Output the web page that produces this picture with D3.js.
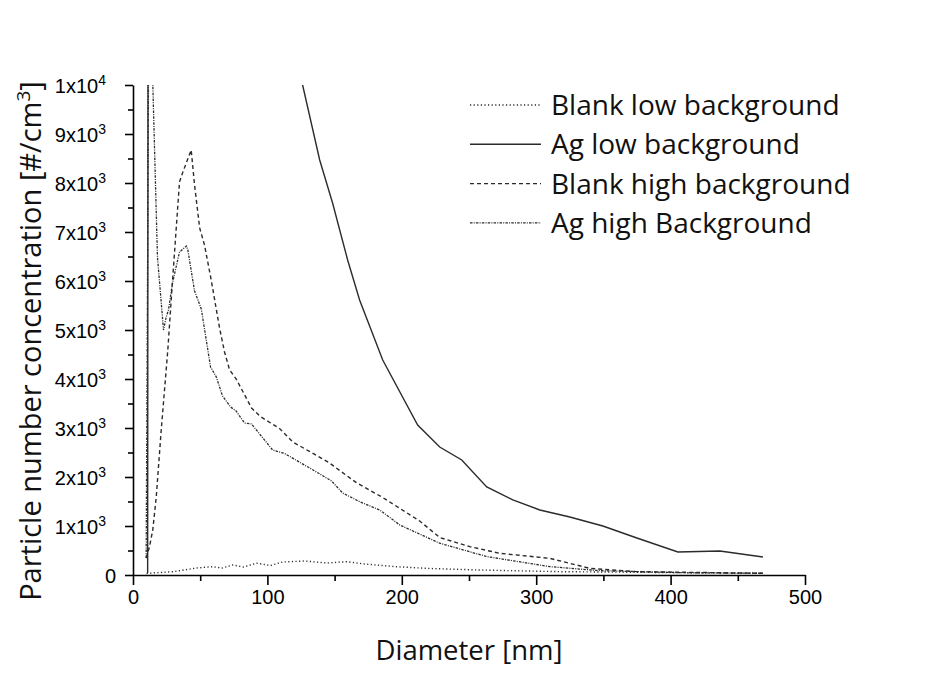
<!DOCTYPE html>
<html>
<head>
<meta charset="utf-8">
<script src="https://cdn.jsdelivr.net/npm/d3@7"></script>
<style>
  body { margin: 0; background: #fff; }
  svg { display: block; }
</style>
</head>
<body>
<svg id="drawing_region"></svg>
<script>

// series values [diameter nm, concentration #/cm3]
const blankLow = [
    [10.1, 31], [17.5, 47], [29.6, 67], [47.3, 143], [59.2, 169], [66.6, 143],
    [74.1, 204], [82.3, 163], [92, 240], [102.4, 194], [111.3, 265], [127.7, 286],
    [144.1, 245], [159, 271], [172.4, 224], [196.2, 169], [220.7, 133], [258, 102],
    [317.6, 68], [468.7, 35]
];

const agLow = [
    [10.9, 40], [11.6, 30000], [120, 10800], [126.2, 10000], [138.9, 8469], [148.5, 7592],
    [159.7, 6429], [168.6, 5612], [185.8, 4388], [211.8, 3061], [228.2, 2612],
    [244.6, 2347], [263.2, 1796], [282.6, 1531], [302.7, 1327], [325, 1184],
    [349.6, 1000], [374.9, 755], [405.4, 469], [436.7, 490], [468.7, 367]
];

const blankHigh = [
    [9.8, 347], [12.3, 578], [14.7, 918], [17.3, 1592], [21, 2959], [25.9, 4592],
    [29.6, 6082], [34.6, 8020], [37.1, 8224], [43.3, 8673], [45.8, 7959], [49.6, 7082],
    [53.2, 6735], [58.2, 6020], [64.4, 5041], [68.1, 4551], [71.9, 4184], [76.8, 4000],
    [88.2, 3408], [94.9, 3231], [109, 2990], [119, 2714], [145.9, 2292], [166.2, 1884],
    [186, 1578], [213.3, 1102], [228.2, 765], [250.6, 578], [272.9, 443], [310.1, 340],
    [339.9, 136], [374.7, 68], [468.7, 35]
];

const agHigh = [
    [9.8, 347], [12, 12800], [18.2, 6490], [22.7, 5000], [24.7, 5265], [26.4, 5408],
    [29.4, 5959], [34.6, 6592], [39.8, 6714], [40.8, 6633], [45.8, 5796], [50.8, 5429],
    [53.2, 5020], [57.7, 4245], [62, 4041], [66.6, 3653], [72.6, 3429], [76.7, 3347],
    [83, 3102], [88.2, 3082], [91.2, 2980], [103.9, 2551], [112.8, 2480], [131.4, 2184],
    [147.8, 1918], [156, 1673], [168.7, 1496], [183.6, 1327], [198.5, 1020], [228.2, 649],
    [263.2, 376], [310.1, 171], [347.4, 88], [409.2, 47], [468.7, 35]
];

const seriesNames = ['Blank low background', 'Ag low background', 'Blank high background', 'Ag high Background'];
const xTicks = [0, 100, 200, 300, 400, 500];
const yTicks = [0, 1000, 2000, 3000, 4000, 5000, 6000, 7000, 8000, 9000, 10000];

const config = {
    width: 925,
    height: 679,
    margin: {top: 85, right: 120, bottom: 104, left: 133}
};

const svg = d3.select('#drawing_region')
    .attr('width', config.width)
    .attr('height', config.height);

const innerW = config.width - config.margin.left - config.margin.right;
const innerH = config.height - config.margin.top - config.margin.bottom;

const chart = svg.append('g')
    .attr('transform', `translate(${config.margin.left}, ${config.margin.top})`);

const xscale = d3.scaleLinear().domain([0, 500]).range([0, innerW]);
const yscale = d3.scaleLinear().domain([0, 10000]).range([innerH, 0]);

svg.append('defs').append('clipPath').attr('id', 'plotclip')
    .append('rect').attr('x', 0).attr('y', 0).attr('width', innerW).attr('height', innerH);

const ink = '#2b2b2b';
const styles = [
    {dash: '1.2,2.4', width: 1.4},
    {dash: null, width: 1.4},
    {dash: '4,3', width: 1.4},
    {dash: '2.5,1.2,1,1.2', width: 1.3}
];
const allSeries = [blankLow, agLow, blankHigh, agHigh];

const line = d3.line()
    .x(d => xscale(d[0]))
    .y(d => yscale(d[1]));

const lines = chart.append('g').attr('clip-path', 'url(#plotclip)');
allSeries.forEach((s, i) => {
    lines.append('path')
        .datum(s)
        .attr('fill', 'none')
        .attr('stroke', ink)
        .attr('stroke-width', styles[i].width)
        .attr('stroke-dasharray', styles[i].dash)
        .attr('d', line);
});

// minor ticks
const xMinor = d3.range(50, 500, 100);
const yMinor = d3.range(500, 10000, 1000);

const xaxis = d3.axisBottom(xscale).tickValues(xTicks).tickSize(10).tickSizeOuter(0).tickPadding(5);
const yaxis = d3.axisLeft(yscale).tickValues(yTicks).tickSize(8).tickSizeOuter(0).tickPadding(7)
    .tickFormat(() => '');

const xg = chart.append('g').attr('transform', `translate(0, ${innerH})`).call(xaxis);
const yg = chart.append('g').call(yaxis);

chart.append('g').attr('transform', `translate(0, ${innerH})`)
    .call(d3.axisBottom(xscale).tickValues(xMinor).tickSize(6).tickSizeOuter(0).tickFormat(''))
    .call(g => g.select('.domain').remove());
chart.append('g')
    .call(d3.axisLeft(yscale).tickValues(yMinor).tickSize(5).tickSizeOuter(0).tickFormat(''))
    .call(g => g.select('.domain').remove());

chart.selectAll('.domain, .tick line').attr('stroke', '#000').attr('stroke-width', 1.6);

xg.selectAll('text')
    .attr('font-family', 'Liberation Sans, Arial, sans-serif')
    .attr('font-size', 20)
    .attr('fill', '#000');

// y tick labels as 1x10^3 with superscript
yg.selectAll('.tick').each(function(v) {
    const t = d3.select(this).select('text')
        .attr('font-family', 'Liberation Sans, Arial, sans-serif')
        .attr('font-size', 20)
        .attr('fill', '#000')
        .attr('x', -27)
        .attr('dy', '0.35em')
        .attr('text-anchor', 'end');
    if (v === 0) { t.attr('x', -17).text('0'); return; }
    const exp = Math.floor(Math.log10(v));
    const m = Math.round(v / Math.pow(10, exp));
    t.text(null);
    t.append('tspan').text(m + 'x10');
    t.append('tspan').attr('dy', -8).attr('font-size', 14).text(exp);
});

// axis titles
svg.append('text')
    .attr('x', config.margin.left + xscale(250))
    .attr('y', 660)
    .attr('text-anchor', 'middle')
    .attr('font-family', 'Open Sans, Noto Sans, sans-serif')
    .attr('font-size', 27.5)
    .attr('fill', '#111')
    .text('Diameter [nm]');

const ytitle = svg.append('text')
    .attr('transform', `translate(41, ${config.margin.top + innerH / 2 + 11}) rotate(-90)`)
    .attr('text-anchor', 'middle')
    .attr('font-family', 'Open Sans, Noto Sans, sans-serif')
    .attr('font-size', 29)
    .attr('fill', '#111');
ytitle.append('tspan').text('Particle number concentration [#/cm');
ytitle.append('tspan').attr('dy', -11).attr('font-size', 19).text('3');
ytitle.append('tspan').attr('dy', 11).text(']');

// legend
const legend = svg.append('g').attr('transform', 'translate(470, 105)');
seriesNames.forEach((name, i) => {
    const row = legend.append('g').attr('transform', `translate(0, ${i * 39.3})`);
    row.append('line')
        .attr('x1', 0).attr('x2', 71)
        .attr('y1', 0).attr('y2', 0)
        .attr('stroke', ink)
        .attr('stroke-width', styles[i].width)
        .attr('stroke-dasharray', styles[i].dash);
    row.append('text')
        .attr('x', 81)
        .attr('y', 10)
        .attr('font-family', 'Open Sans, Noto Sans, sans-serif')
        .attr('font-size', 28)
        .attr('fill', '#111')
        .text(name);
});

</script>
</body>
</html>
